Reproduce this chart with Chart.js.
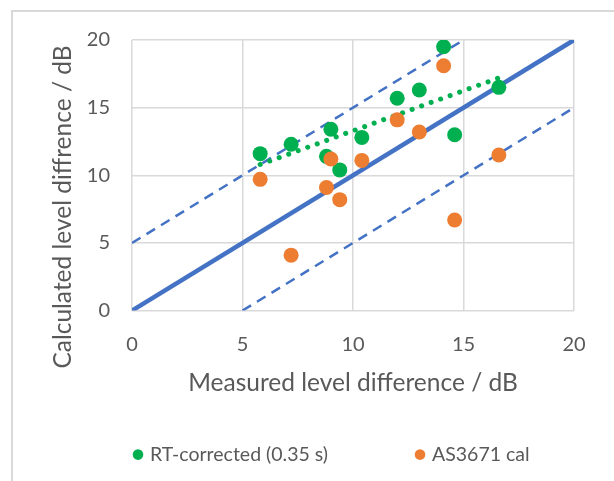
<!DOCTYPE html>
<html>
<head>
<meta charset="utf-8">
<script src="https://cdn.jsdelivr.net/npm/chart.js@4.4.1/dist/chart.umd.min.js"></script>
<style>
    html, body { margin: 0; padding: 0; background: #fff; overflow: hidden; }
    #wrap { position: relative; width: 614px; height: 481px; }
    #frame { position: absolute; left: 11px; top: 10px; right: -10px; bottom: -10px;
             border-left: 2px solid #d9d9d9; border-top: 2px solid #d9d9d9; }
    canvas { position: absolute; left: 0; top: 0; }
</style>
</head>
<body>
<div id="wrap">
    <div id="frame"></div>
    <canvas id="chart" width="614" height="481"></canvas>
</div>
<script>
const FONT = "Lato, 'Open Sans', sans-serif";
const TEXT_COLOR = "#595959";

// valeurs
const measured = [5.8, 7.2, 9.0, 8.8, 9.4, 10.4, 12.0, 13.0, 14.1, 14.6, 16.6];
const rtCorrected = [11.6, 12.3, 13.4, 11.4, 10.4, 12.8, 15.7, 16.3, 19.5, 13.0, 16.5];
const as3671 = [9.7, 4.1, 11.2, 9.1, 8.2, 11.1, 14.1, 13.2, 18.1, 6.7, 11.5];

// tendance linéaire (extrémités lues)
const trendX = [5.8, 16.6];
const trendY = [10.8, 17.2];

// droites de référence y = x, y = x + 5, y = x - 5
const equalX = [0, 20];
const equalY = [0, 20];
const upperX = [0, 15];
const upperY = [5, 20];
const lowerX = [5, 20];
const lowerY = [0, 15];

const axisTicks = [0, 5, 10, 15, 20];

const seriesLabels = ["RT-corrected (0.35 s)", "AS3671 cal"];
const xTitle = "Measured level difference / dB";
const yTitle = "Calculated level diffrence / dB";

function toPoints(xs, ys) {
    return xs.map((x, i) => ({ x, y: ys[i] }));
}

// titre Y et légende dessinés à la main (placement comme dans Excel)
const decorPlugin = {
    id: "decor",
    afterDraw(chart) {
        const { ctx, chartArea } = chart;
        ctx.save();

        ctx.fillStyle = TEXT_COLOR;
        ctx.font = `24.5px ${FONT}`;
        ctx.textAlign = "center";
        ctx.textBaseline = "middle";
        ctx.translate(chartArea.left - 69, chartArea.top + 167);
        ctx.rotate(-Math.PI / 2);
        ctx.fillText(yTitle, 0, 0);
        ctx.setTransform(1, 0, 0, 1, 0, 0);

        const y = chartArea.bottom + 144;
        let x = chartArea.left + 6;
        ctx.font = `19.5px ${FONT}`;
        ctx.textAlign = "left";
        [0, 1].forEach((idx) => {
            const ds = chart.data.datasets[idx];
            ctx.fillStyle = ds.backgroundColor;
            ctx.beginPath();
            ctx.arc(x, y, 5.3, 0, Math.PI * 2);
            ctx.fill();
            ctx.fillStyle = TEXT_COLOR;
            ctx.fillText(ds.label, x + 12, y);
            x += 12 + ctx.measureText(ds.label).width + 92;
        });
        ctx.restore();
    },
};

const canvas = document.getElementById("chart");

new Chart(canvas, {
    type: "scatter",
    data: {
        datasets: [
            {
                label: seriesLabels[0],
                data: toPoints(measured, rtCorrected),
                backgroundColor: "#00B050",
                borderWidth: 0,
                pointRadius: 7.5,
                order: 1,
            },
            {
                label: seriesLabels[1],
                data: toPoints(measured, as3671),
                backgroundColor: "#ED7D31",
                borderWidth: 0,
                pointRadius: 7.5,
                order: 0,
            },
            {
                label: "trend",
                data: toPoints(trendX, trendY),
                showLine: true,
                pointRadius: 0,
                borderColor: "#00B050",
                borderWidth: 5,
                borderDash: [0.1, 10],
                borderCapStyle: "round",
                order: 2,
            },
            {
                label: "y = x",
                data: toPoints(equalX, equalY),
                showLine: true,
                pointRadius: 0,
                borderColor: "#4472C4",
                borderWidth: 4.5,
                order: 3,
            },
            {
                label: "y = x + 5",
                data: toPoints(upperX, upperY),
                showLine: true,
                pointRadius: 0,
                borderColor: "#4472C4",
                borderWidth: 2.5,
                borderDash: [10, 7],
                order: 3,
            },
            {
                label: "y = x - 5",
                data: toPoints(lowerX, lowerY),
                showLine: true,
                pointRadius: 0,
                borderColor: "#4472C4",
                borderWidth: 2.5,
                borderDash: [10, 7],
                order: 3,
            },
        ],
    },
    options: {
        responsive: false,
        animation: false,
        layout: { padding: { left: 46, right: 40, top: 40, bottom: 83 } },
        plugins: {
            legend: { display: false },
            tooltip: { enabled: false },
        },
        scales: {
            x: {
                type: "linear",
                min: axisTicks[0],
                max: axisTicks[axisTicks.length - 1],
                afterBuildTicks: (scale) => { scale.ticks = axisTicks.map((v) => ({ value: v })); },
                grid: { color: "#d9d9d9", lineWidth: 1.5, drawTicks: false },
                border: { display: false },
                ticks: { padding: 22, color: TEXT_COLOR, font: { family: FONT, size: 20 } },
                title: {
                    display: true,
                    text: xTitle,
                    color: TEXT_COLOR,
                    font: { family: FONT, size: 24.5 },
                    padding: { top: -10, bottom: 0 },
                },
            },
            y: {
                type: "linear",
                min: axisTicks[0],
                max: axisTicks[axisTicks.length - 1],
                afterBuildTicks: (scale) => { scale.ticks = axisTicks.map((v) => ({ value: v })); },
                afterFit: (scale) => { scale.width = 132 - 46; },
                grid: { color: "#d9d9d9", lineWidth: 1.5, drawTicks: false },
                border: { display: false },
                ticks: { padding: 22, color: TEXT_COLOR, font: { family: FONT, size: 20 } },
            },
        },
    },
    plugins: [decorPlugin],
});
</script>
</body>
</html>
